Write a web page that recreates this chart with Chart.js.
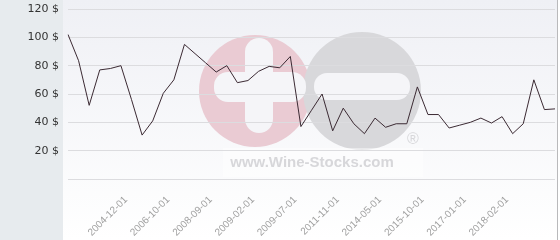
<!DOCTYPE html>
<html>
<head>
<meta charset="utf-8">
<script src="https://cdn.jsdelivr.net/npm/chart.js@4"></script>
<style>
  html, body { margin: 0; padding: 0; background: #ffffff; }
  #wrap { width: 560px; height: 240px; }
</style>
</head>
<body>
<div id="wrap"><canvas id="priceChart" width="560" height="240"></canvas></div>
<script>

// Data

const dates = [
  "", "", "", "", "", "2004-12-01", "", "", "", "2006-10-01",
  "", "", "", "2008-09-01", "", "", "", "2009-02-01", "", "",
  "", "2009-07-01", "", "", "", "2011-11-01", "", "", "", "2014-05-01",
  "", "", "", "2015-10-01", "", "", "", "2017-01-01", "", "",
  "", "2018-02-01", "", "", "", "", ""
];

const prices = [
  102, 83.5, 52, 77, 78, 80, 56, 31, 41, 60.5,
  70, 95, 88.5, 82, 75.5, 80, 68, 69.5, 76, 79.5,
  78.5, 86.5, 37, 48.5, 60, 34, 50, 39, 32, 43,
  36.5, 39, 39, 65, 45.5, 45.5, 36, 38, 40, 43,
  39.5, 44, 32, 39, 70, 49, 49.5
];

const yMin = 0;
const yMax = 120;
const yStep = 20;

// Background + watermark

function roundRect(c, x, y, w, h, r){
  c.beginPath();
  c.moveTo(x + r, y);
  c.arcTo(x + w, y, x + w, y + h, r);
  c.arcTo(x + w, y + h, x, y + h, r);
  c.arcTo(x, y + h, x, y, r);
  c.arcTo(x, y, x + w, y, r);
  c.closePath();
  c.fill();
}

const backdrop = {
  id: "backdrop",
  beforeDraw(chart){
    const c = chart.ctx;
    c.save();

    // left panel
    c.fillStyle = "#e7ebee";
    c.fillRect(0, 0, 63, 240);

    // plot panel
    const g = c.createLinearGradient(0, 0, 0, 240);
    g.addColorStop(0, "#eff0f5");
    g.addColorStop(1, "#ffffff");
    c.fillStyle = g;
    c.fillRect(63, 0, 494, 240);

    // right border
    c.strokeStyle = "#b9b9bb";
    c.lineWidth = 1;
    c.beginPath();
    c.moveTo(557.5, 0);
    c.lineTo(557.5, 240);
    c.stroke();

    // logo
    c.fillStyle = "#eacbd3";
    c.beginPath();
    c.arc(255, 91, 56, 0, Math.PI * 2);
    c.fill();

    c.fillStyle = "#d8d8db";
    c.beginPath();
    c.arc(362, 91, 59, 0, Math.PI * 2);
    c.fill();

    c.fillStyle = "#f5f5f8";
    roundRect(c, 245, 38, 28, 95, 14);
    roundRect(c, 214, 72, 92, 30, 14);
    roundRect(c, 314, 73, 96, 27, 13);

    c.fillStyle = "rgba(255,255,255,0.45)";
    c.fillRect(223, 148, 200, 29);

    c.fillStyle = "#d7d7da";
    c.font = "bold 15px 'Liberation Sans', Arial, sans-serif";
    c.textAlign = "center";
    c.textBaseline = "alphabetic";
    c.fillText("www.Wine-Stocks.com", 312, 167);

    c.font = "16px 'Liberation Sans', Arial, sans-serif";
    c.fillText("\u00AE", 413, 144);

    c.restore();
  }
};

// Chart

const ctx = document.getElementById("priceChart");

new Chart(ctx, {

  type: "line",

  data: {
    labels: dates,
    datasets: [{
      data: prices,
      borderColor: "#3b2a33",
      borderWidth: 1,
      pointRadius: 0,
      tension: 0,
      fill: false
    }]
  },

  options: {
    responsive: false,
    animation: false,
    layout: {
      padding: { top: 9, right: 5, left: 0, bottom: 0 }
    },
    plugins: {
      legend: { display: false },
      tooltip: { enabled: false }
    },
    scales: {
      x: {
        offset: false,
        grid: { display: false, drawTicks: false },
        border: { display: false },
        ticks: {
          autoSkip: false,
          minRotation: 45,
          maxRotation: 45,
          padding: 15,
          labelOffset: 5,
          color: "#9f9f9f",
          font: { family: "'Liberation Sans', Arial, sans-serif", size: 10 }
        },
        afterFit: s => {
          s.height = 61;
          s.paddingLeft = 0;
          s.paddingRight = 0;
        }
      },
      y: {
        min: yMin,
        max: yMax,
        grid: { color: "#dcdcdf", drawTicks: false },
        border: { display: false },
        ticks: {
          stepSize: yStep,
          padding: 9,
          color: "#333333",
          font: { family: "'DejaVu Sans', sans-serif", size: 11 },
          callback: v => v === 0 ? "" : v + " $"
        },
        afterFit: s => {
          s.width = 68;
          s.paddingTop = 0;
          s.paddingBottom = 0;
        }
      }
    }
  },

  plugins: [backdrop]

});
</script>
</body>
</html>
